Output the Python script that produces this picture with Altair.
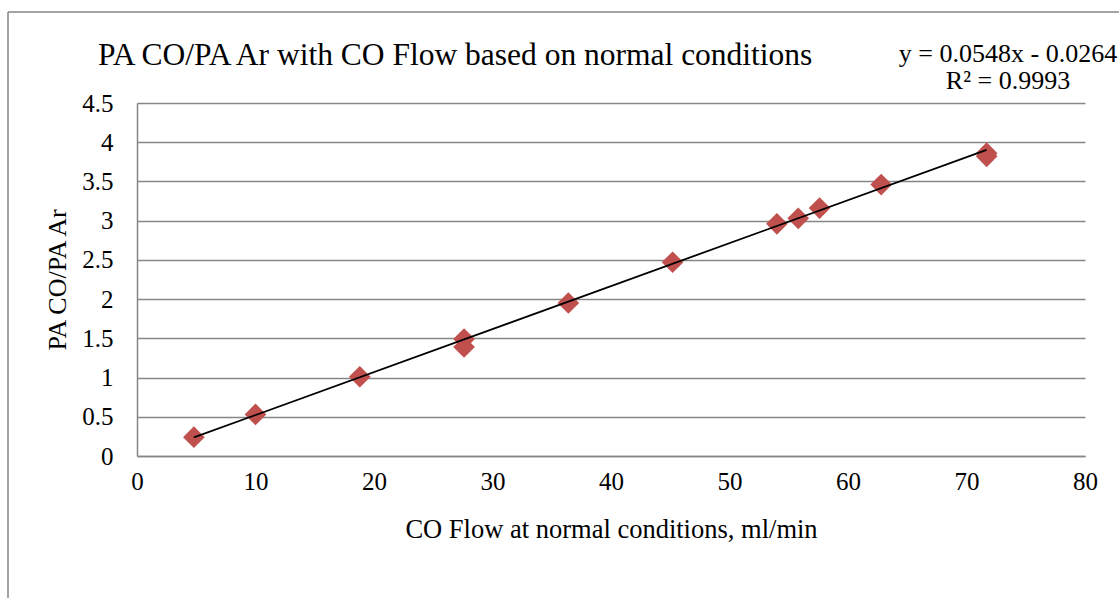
import altair as alt
import pandas as pd

# Calibration points: CO flow (ml/min) vs. peak-area ratio CO/Ar
co_flow = [4.8, 10.0, 18.8, 27.6, 27.6, 36.4, 45.2, 54.0, 55.8, 57.6, 62.8, 71.7, 71.7]
pa_ratio = [0.24, 0.53, 1.01, 1.49, 1.39, 1.95, 2.47, 2.96, 3.03, 3.16, 3.46, 3.86, 3.82]

# Linear trendline reported for the series
slope = 0.0548
intercept = -0.0264
eq_lines = ["y = 0.0548x - 0.0264", "R² = 0.9993"]

title_text = "PA CO/PA Ar with CO Flow based on normal conditions"
x_title = "CO Flow at normal conditions, ml/min"
y_title = "PA CO/PA Ar"

x_ticks = [0, 10, 20, 30, 40, 50, 60, 70, 80]
y_ticks = [0, 0.5, 1, 1.5, 2, 2.5, 3, 3.5, 4, 4.5]

FONT = "Liberation Serif"
GRID = "#868686"
MARKER = "#C0504D"

points = pd.DataFrame({"flow": co_flow, "ratio": pa_ratio})
x_lo, x_hi = min(co_flow), max(co_flow)
trend = pd.DataFrame({
    "flow": [x_lo, x_hi],
    "ratio": [slope * x_lo + intercept, slope * x_hi + intercept],
})

x_axis = alt.Axis(
    values=x_ticks, title=x_title, grid=False, ticks=False, labelOverlap=False,
    labelFlush=False, labelFont=FONT, titleFont=FONT,
    titleY=81, titleBaseline="alphabetic",
)
y_axis = alt.Axis(
    values=y_ticks, title=y_title, format="~g", grid=True, ticks=False,
    labelOverlap=False, labelFlush=False, tickCount=len(y_ticks),
    labelFont=FONT, titleFont=FONT,
    titleX=-72, titleBaseline="alphabetic",
)
x_enc = alt.X("flow:Q", scale=alt.Scale(domain=[0, 80], nice=False, zero=False), axis=x_axis)
y_enc = alt.Y("ratio:Q", scale=alt.Scale(domain=[0, 4.5], nice=False, zero=False), axis=y_axis)

markers = alt.Chart(points).mark_point(
    shape="diamond", filled=True, size=470, color=MARKER, opacity=1
).encode(x=x_enc, y=y_enc)

trendline = alt.Chart(trend).mark_line(color="black", strokeWidth=1.8).encode(
    x=x_enc, y=y_enc
)

one = pd.DataFrame({"k": [0]})

title_mark = alt.Chart(one).mark_text(
    text=title_text, font=FONT, fontSize=31.5, align="left", baseline="alphabetic",
    color="black",
).encode(x=alt.value(-39), y=alt.value(-38))

eq1 = alt.Chart(one).mark_text(
    text=eq_lines[0], font=FONT, fontSize=26, align="center", baseline="alphabetic",
    color="black",
).encode(x=alt.value(871), y=alt.value(-41))

eq2 = alt.Chart(one).mark_text(
    text=eq_lines[1], font=FONT, fontSize=26, align="center", baseline="alphabetic",
    color="black",
).encode(x=alt.value(871), y=alt.value(-14))

# Chart-area frame (left and top edges)
frame_left = alt.Chart(one).mark_rule(color=GRID, strokeWidth=1.5).encode(
    x=alt.value(-129), y=alt.value(-91), y2=alt.value(520)
)
frame_top = alt.Chart(one).mark_rule(color=GRID, strokeWidth=1.5).encode(
    x=alt.value(-129), x2=alt.value(1000), y=alt.value(-91)
)

chart = alt.layer(
    markers, trendline, frame_left, frame_top, title_mark, eq1, eq2
).properties(
    width=948,
    height=353,
    autosize=alt.AutoSizeParams(type="none"),
    padding={"left": 137, "top": 103, "right": 34, "bottom": 142},
    background="white",
).configure(
    font=FONT
).configure_view(
    stroke=None
).configure_axis(
    labelFont=FONT, labelFontSize=25, labelColor="black",
    titleFont=FONT, titleFontSize=26.5, titleFontWeight="normal", titleColor="black",
    domainColor=GRID, domainWidth=1.5,
    gridColor=GRID, gridWidth=1.5, gridOpacity=1,
).configure_axisX(
    labelPadding=13,
).configure_axisY(
    labelPadding=24, titleFontSize=26,
)

chart.save("out.html", embed_options={"renderer": "svg", "actions": False})
